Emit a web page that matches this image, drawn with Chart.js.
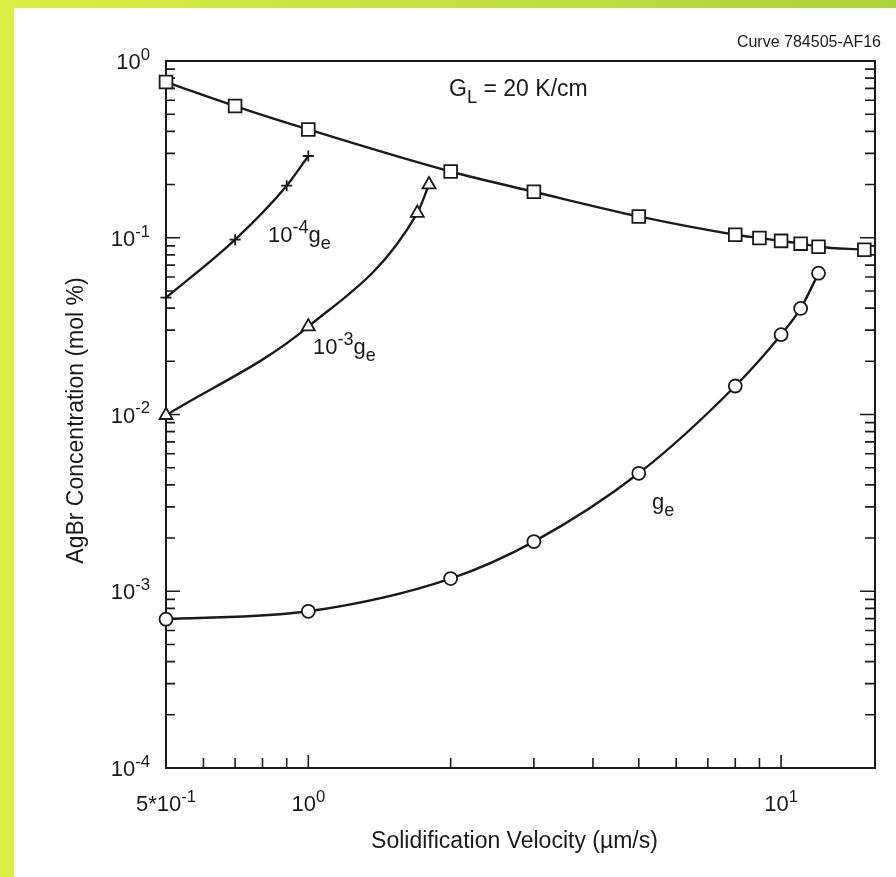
<!DOCTYPE html>
<html>
<head>
<meta charset="utf-8">
<script src="https://cdn.jsdelivr.net/npm/chart.js@4.4.1/dist/chart.umd.min.js"></script>
<style>
  html, body { margin: 0; padding: 0; background: #fff; }
  #wrap { position: relative; width: 896px; height: 877px; overflow: hidden; }
  #left { position: absolute; left: 0; top: 0; width: 14px; height: 877px; background: #d9ef42; }
  #top { position: absolute; left: 0; top: 0; width: 896px; height: 8px; background: linear-gradient(to right, #d9ef42, #aed23b); }
  canvas { position: absolute; left: 0; top: 0; }
</style>
</head>
<body>
<div id="wrap">
  <div id="left"></div>
  <div id="top"></div>
  <canvas id="chart" width="896" height="877"></canvas>
</div>
<script>
// velocity (um/s) -> AgBr concentration (mol %)
const squareX = [0.5, 0.7, 1.0, 2.0, 3.0, 5.0, 8.0, 9.0, 10, 11, 12, 15];
const squareY = [0.76, 0.556, 0.41, 0.237, 0.182, 0.132, 0.104, 0.0996, 0.096, 0.0926, 0.089, 0.0855];

const plusX = [0.5, 0.7, 0.9, 1.0];
const plusY = [0.0458, 0.0975, 0.197, 0.29];

const triX = [0.5, 1.0, 1.7, 1.8];
const triY = [0.0099, 0.0314, 0.138, 0.20];

const circX = [0.5, 1.0, 2.0, 3.0, 5.0, 8.0, 10, 11, 12];
const circY = [0.000695, 0.00077, 0.00118, 0.00191, 0.00465, 0.0145, 0.0283, 0.0398, 0.063];

// tick labels: [base, superscript]
const xTickVals = [0.5, 1, 10];
const xTickLabels = [['5*10', '-1'], ['10', '0'], ['10', '1']];
const yTickVals = [1, 0.1, 0.01, 0.001, 0.0001];
const yTickLabels = [['10', '0'], ['10', '-1'], ['10', '-2'], ['10', '-3'], ['10', '-4']];

const FONT = '"Liberation Sans", Arial, sans-serif';
const INK = '#1a1a1a';

function toPoints(xs, ys) {
    return xs.map((x, i) => ({ x: x, y: ys[i] }));
}

// draw text made of runs: [text, shift] shift 1 = superscript, -1 = subscript
function drawRuns(ctx, runs, x, y, size, align, ratio = 0.76) {
    const small = size * ratio;
    let total = 0;
    runs.forEach(([t, s]) => {
        ctx.font = `${s ? small : size}px ${FONT}`;
        total += ctx.measureText(t).width;
    });
    let cx = align === 'right' ? x - total : align === 'center' ? x - total / 2 : x;
    ctx.textAlign = 'left';
    ctx.textBaseline = 'alphabetic';
    runs.forEach(([t, s]) => {
        ctx.font = `${s ? small : size}px ${FONT}`;
        const dy = s > 0 ? -size * 0.42 : s < 0 ? size * 0.3 : 0;
        ctx.fillText(t, cx, y + dy);
        cx += ctx.measureText(t).width;
    });
}

const frameAndTicks = {
    id: 'frameAndTicks',

    beforeDatasetsDraw(chart) {
        const { ctx, chartArea: { left, top, right, bottom }, scales: { x, y } } = chart;
        ctx.save();
        ctx.strokeStyle = INK;
        ctx.lineWidth = 2;
        ctx.strokeRect(left, top, right - left, bottom - top);

        // inward ticks on left and right sides
        ctx.lineWidth = 1.6;
        for (let e = -4; e <= 0; e++) {
            for (let m = 1; m <= 9; m++) {
                const v = m * Math.pow(10, e);
                if (v > 1.0001 || (e === 0 && m > 1)) continue;
                const py = y.getPixelForValue(v);
                const major = m === 1;
                ctx.beginPath();
                ctx.moveTo(left, py);
                ctx.lineTo(left + (major ? 14 : 9), py);
                ctx.moveTo(right, py);
                ctx.lineTo(right - (major ? 15 : 10), py);
                ctx.stroke();
            }
        }
        // inward ticks on the bottom
        for (let e = -1; e <= 1; e++) {
            for (let m = 1; m <= 9; m++) {
                const v = m * Math.pow(10, e);
                if (v <= 0.5 || v > 10.0001) continue;
                const px = x.getPixelForValue(v);
                const major = m === 1;
                ctx.beginPath();
                ctx.moveTo(px, bottom);
                ctx.lineTo(px, bottom - (major ? 13 : 10));
                ctx.stroke();
            }
        }
        ctx.restore();
    },

    afterDraw(chart) {
        const { ctx, chartArea: { left, top, right, bottom }, scales: { x, y } } = chart;
        ctx.save();
        ctx.fillStyle = INK;

        yTickVals.forEach((v, i) => {
            const py = y.getPixelForValue(v);
            drawRuns(ctx, [[yTickLabels[i][0], 0], [yTickLabels[i][1], 1]], left - 16, py + 8, 22, 'right');
        });
        xTickVals.forEach((v, i) => {
            const px = x.getPixelForValue(v);
            drawRuns(ctx, [[xTickLabels[i][0], 0], [xTickLabels[i][1], 1]], px, bottom + 43, 22, 'center');
        });

        // axis titles
        ctx.font = `23px ${FONT}`;
        ctx.textAlign = 'center';
        ctx.textBaseline = 'alphabetic';
        ctx.fillText('Solidification Velocity (\u00b5m/s)', (left + right) / 2 - 6, bottom + 80);
        ctx.save();
        ctx.translate(83, (top + bottom) / 2 + 6);
        ctx.rotate(-Math.PI / 2);
        ctx.fillText('AgBr Concentration (mol %)', 0, 0);
        ctx.restore();

        // annotations
        ctx.font = `16px ${FONT}`;
        ctx.textAlign = 'right';
        ctx.fillText('Curve 784505-AF16', 881, 47);
        drawRuns(ctx, [['G', 0], ['L', -1], [' = 20 K/cm', 0]], 449, 96, 23, 'left', 0.8);
        drawRuns(ctx, [['10', 0], ['-4', 1], ['g', 0], ['e', -1]], 268, 242, 22, 'left', 0.82);
        drawRuns(ctx, [['10', 0], ['-3', 1], ['g', 0], ['e', -1]], 313, 354, 22, 'left', 0.82);
        drawRuns(ctx, [['g', 0], ['e', -1]], 652, 509, 22, 'left', 0.82);
        ctx.restore();
    }
};

const common = {
    borderColor: INK,
    borderWidth: 2.4,
    pointBackgroundColor: '#fff',
    pointBorderColor: INK,
    pointBorderWidth: 1.8,
    cubicInterpolationMode: 'monotone',
    clip: false,
    fill: false
};

new Chart(document.getElementById('chart'), {
    type: 'line',
    plugins: [frameAndTicks],
    data: {
        datasets: [
            { ...common, label: 'GL = 20 K/cm', data: toPoints(squareX, squareY), pointStyle: 'rect', pointRadius: 9 },
            { ...common, label: '1e-4 ge', data: toPoints(plusX, plusY), pointStyle: 'cross', pointRadius: 5.5, pointBorderWidth: 1.8 },
            { ...common, label: '1e-3 ge', data: toPoints(triX, triY), pointStyle: 'triangle', pointRadius: 7.5 },
            { ...common, label: 'ge', data: toPoints(circX, circY), pointStyle: 'circle', pointRadius: 6.5 }
        ]
    },
    options: {
        responsive: false,
        devicePixelRatio: 1,
        animation: false,
        events: [],
        layout: { padding: { left: 166, right: 21, top: 61, bottom: 109 } },
        plugins: { legend: { display: false }, tooltip: { enabled: false } },
        scales: {
            x: { type: 'logarithmic', min: 0.5, max: 15.8, display: false },
            y: { type: 'logarithmic', min: 0.0001, max: 1, display: false }
        }
    }
});
</script>
</body>
</html>
